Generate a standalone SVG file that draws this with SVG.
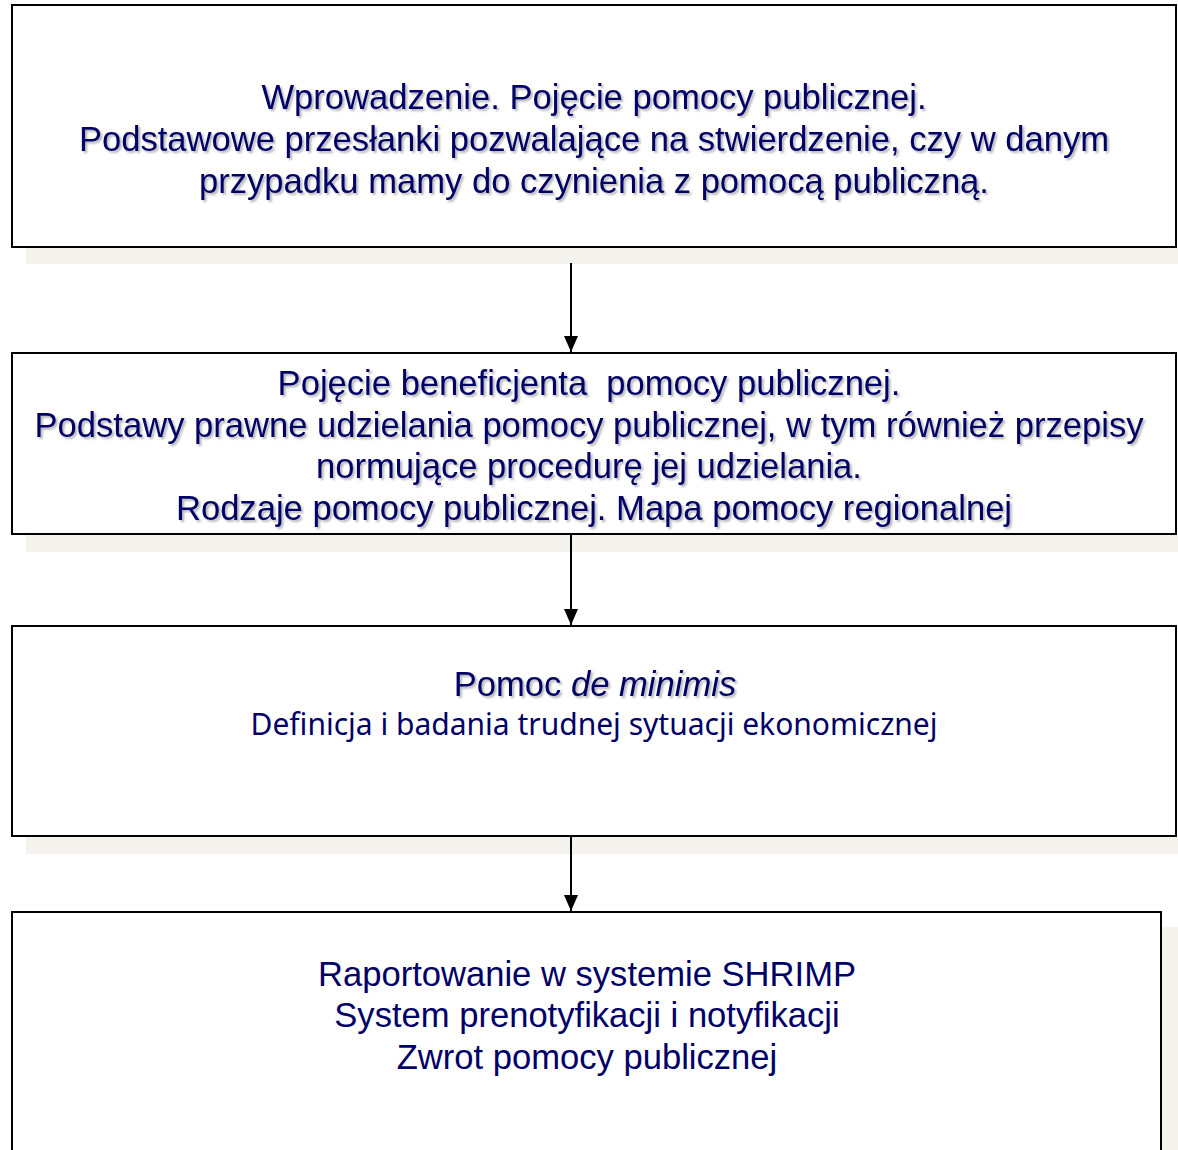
<svg xmlns="http://www.w3.org/2000/svg" width="1178" height="1150" viewBox="0 0 1178 1150">
<defs>
<filter id="sh" x="-5%" y="-30%" width="110%" height="160%">
<feDropShadow dx="2" dy="2" stdDeviation="1" flood-color="#000" flood-opacity="0.3"/>
</filter>
<marker id="ah" markerWidth="16" markerHeight="14" refX="16" refY="7" orient="auto" markerUnits="userSpaceOnUse">
<path d="M0,0 L16,7 L0,14 Z" fill="#000"/>
</marker>
</defs>
<style>
.box{fill:#fff;stroke:#000;stroke-width:2}
.shadow{fill:#f3f2ed}
.t{font-family:"Liberation Sans",Arial,sans-serif;font-size:34.6px;fill:#000066;text-anchor:middle;white-space:pre}
.s{filter:url(#sh)}
.c{font-family:"Noto Sans","Open Sans",sans-serif;font-size:30px;fill:#000066;text-anchor:middle}
.conn{stroke:#000;stroke-width:2;fill:none}
</style>
<rect width="1178" height="1150" fill="#fff"/>
<g id="node1">
<rect class="shadow" x="26" y="248" width="1152" height="16"/>
<rect class="box" x="12" y="5" width="1164" height="242"/>
<text class="t s" x="594" y="109">Wprowadzenie. Pojęcie pomocy publicznej.</text>
<text class="t s" x="594" y="151">Podstawowe przesłanki pozwalające na stwierdzenie, czy w danym</text>
<text class="t s" x="594" y="193">przypadku mamy do czynienia z pomocą publiczną.</text>
</g>
<g id="node2">
<rect class="shadow" x="26" y="535" width="1152" height="17"/>
<rect class="box" x="12" y="353" width="1164" height="181"/>
<text class="t s" x="589" y="395">Pojęcie beneficjenta  pomocy publicznej.</text>
<text class="t s" x="589" y="437">Podstawy prawne udzielania pomocy publicznej, w tym również przepisy</text>
<text class="t s" x="589" y="478">normujące procedurę jej udzielania.</text>
<text class="t s" x="594" y="520">Rodzaje pomocy publicznej. Mapa pomocy regionalnej</text>
</g>
<g id="node3">
<rect class="shadow" x="26" y="837" width="1152" height="17"/>
<rect class="box" x="12" y="626" width="1164" height="210"/>
<text class="t s" x="595" y="696">Pomoc <tspan font-style="italic">de minimis</tspan></text>
<text class="c" x="594" y="735">Definicja i badania trudnej sytuacji ekonomicznej</text>
</g>
<g id="node4">
<rect class="shadow" x="1162" y="927" width="16" height="223"/>
<rect class="box" x="12" y="912" width="1149" height="250"/>
<text class="t" x="587" y="986">Raportowanie w systemie SHRIMP</text>
<text class="t" x="587" y="1027">System prenotyfikacji i notyfikacji</text>
<text class="t" x="587" y="1069">Zwrot pomocy publicznej</text>
</g>
<g id="connectors">
<line class="conn" x1="571" y1="263" x2="571" y2="352" marker-end="url(#ah)"/>
<line class="conn" x1="571" y1="535" x2="571" y2="625" marker-end="url(#ah)"/>
<line class="conn" x1="571" y1="837" x2="571" y2="911" marker-end="url(#ah)"/>
</g>
</svg>
